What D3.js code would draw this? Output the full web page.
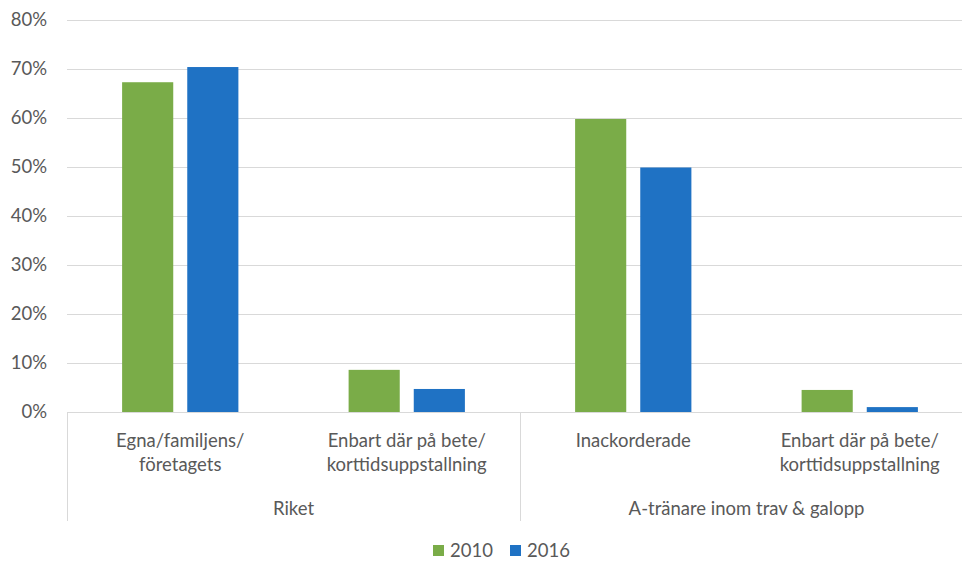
<!DOCTYPE html>
<html>
<head>
<meta charset="utf-8">
<script src="https://cdn.jsdelivr.net/npm/d3@7"></script>
<style>
  body { margin: 0; background: #fff; }
  text { font-family: Lato, "Open Sans", sans-serif; fill: #595959; }
</style>
</head>
<body>
<div id="chart"></div>
<script>
// chart data
let groups = ["Riket", "A-tränare inom trav & galopp"]
let categories = [
    ["Egna/familjens/", "företagets"],
    ["Enbart där på bete/", "korttidsuppstallning"],
    ["Inackorderade"],
    ["Enbart där på bete/", "korttidsuppstallning"]
]
let categoryGroup = [0, 0, 1, 1]
let seriesNames = ["2010", "2016"]
let values2010 = [0.673, 0.086, 0.598, 0.045]
let values2016 = [0.704, 0.047, 0.499, 0.010]
let yTicks = [0, 0.1, 0.2, 0.3, 0.4, 0.5, 0.6, 0.7, 0.8]
let colors = ["#7aac48", "#1f72c4"]

var width = 962, height = 563
var plotLeft = 67, plotRight = 973, plotTop = 20, plotBottom = 412

let svg = d3.select("#chart")
    .append("svg")
    .attr("width", width)
    .attr("height", height)

let yScale = d3.scaleLinear()
    .domain([0, 0.8])
    .range([plotBottom, plotTop])

let xScale = d3.scaleBand()
    .domain(d3.range(categories.length))
    .range([plotLeft, plotRight])

let xInner = d3.scaleBand()
    .domain(seriesNames)
    .range([0, xScale.bandwidth()])
    .paddingInner(0.215)
    .paddingOuter(0.846)

// gridlines
svg.append("g")
    .selectAll("line")
    .data(yTicks)
    .enter()
    .append("line")
    .attr("x1", plotLeft)
    .attr("x2", width)
    .attr("y1", d => Math.round(yScale(d)) + 0.5)
    .attr("y2", d => Math.round(yScale(d)) + 0.5)
    .style("stroke", "#d9d9d9")
    .style("stroke-width", 1)

// y tick labels
svg.append("g")
    .selectAll("text")
    .data(yTicks)
    .enter()
    .append("text")
    .attr("x", 47)
    .attr("y", d => yScale(d))
    .attr("dy", "0.35em")
    .attr("text-anchor", "end")
    .style("font-size", "18.5px")
    .text(d => d3.format(".0%")(d))

// bars
let series = [values2010, values2016]
series.forEach(function (vals, si) {
    svg.append("g")
        .selectAll("rect")
        .data(vals)
        .enter()
        .append("rect")
        .attr("x", (d, i) => xScale(i) + xInner(seriesNames[si]))
        .attr("y", d => yScale(d))
        .attr("width", xInner.bandwidth())
        .attr("height", d => plotBottom - yScale(d))
        .style("fill", colors[si])
})

// axis line
svg.append("line")
    .attr("x1", plotLeft)
    .attr("x2", width)
    .attr("y1", plotBottom + 0.5)
    .attr("y2", plotBottom + 0.5)
    .style("stroke", "#d9d9d9")

// group separator lines
let groupStarts = groups.map((g, gi) => xScale(categoryGroup.indexOf(gi)))
svg.append("g")
    .selectAll("line")
    .data(groupStarts)
    .enter()
    .append("line")
    .attr("x1", d => Math.round(d) + 0.5)
    .attr("x2", d => Math.round(d) + 0.5)
    .attr("y1", plotBottom)
    .attr("y2", 521)
    .style("stroke", "#d9d9d9")

// category labels
categories.forEach(function (lines, i) {
    let t = svg.append("text")
        .attr("text-anchor", "middle")
        .style("font-size", "18.5px")
    lines.forEach(function (line, li) {
        t.append("tspan")
            .attr("x", xScale(i) + xScale.bandwidth() / 2)
            .attr("y", 447 + li * 24)
            .text(line)
    })
})

// group labels
groups.forEach(function (g, gi) {
    let idx = categoryGroup.map((c, i) => c === gi ? i : -1).filter(i => i >= 0)
    let x0 = xScale(idx[0])
    let x1 = xScale(idx[idx.length - 1]) + xScale.bandwidth()
    svg.append("text")
        .attr("x", (x0 + x1) / 2)
        .attr("y", 515)
        .attr("text-anchor", "middle")
        .style("font-size", "18.5px")
        .text(g)
})

// legend
let legend = svg.append("g")
let legendX = [433, 510]
seriesNames.forEach(function (name, si) {
    legend.append("rect")
        .attr("x", legendX[si])
        .attr("y", 545)
        .attr("width", 11)
        .attr("height", 11)
        .style("fill", colors[si])
    legend.append("text")
        .attr("x", legendX[si] + 17)
        .attr("y", 551)
        .attr("dy", "0.35em")
        .style("font-size", "18.5px")
        .text(name)
})
</script>
</body>
</html>
